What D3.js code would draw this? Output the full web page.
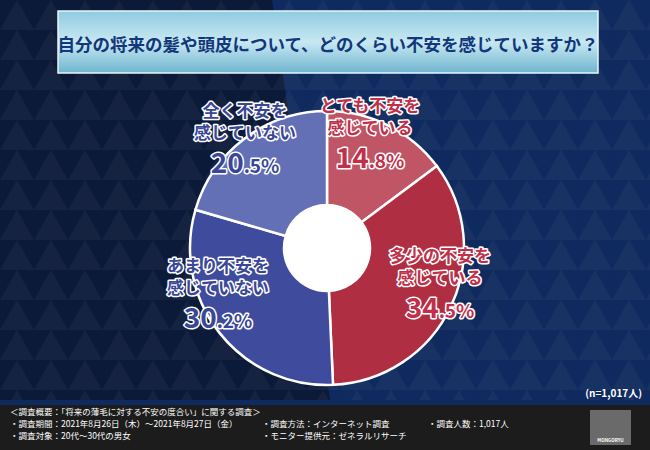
<!DOCTYPE html>
<html><head><meta charset="utf-8">
<script src="https://cdn.jsdelivr.net/npm/d3@7"></script>
<style>body{margin:0;background:#0a1a3a}svg{display:block;font-family:"Noto Sans CJK JP",sans-serif}</style>
</head><body><div id="app"></div>
<script>
const categories = ["とても不安を\n感じている", "多少の不安を\n感じている", "あまり不安を\n感じていない", "全く不安を\n感じていない"];
const values = [14.8, 34.5, 30.2, 20.5];
const colors = ["#c05566", "#b02e42", "#3f4c9e", "#6470b6"];
const textColors = ["#c0304a", "#c0304a", "#3a4796", "#3a4796"];
const labelPos = [[370, 142], [440, 292], [218, 302], [245, 147]];

const width = 650, height = 450;
const svg = d3.select("#app").append("svg").attr("width", width).attr("height", height);
const defs = svg.append("defs");

// background
const pat = defs.append("pattern").attr("id", "tri").attr("patternUnits", "userSpaceOnUse")
  .attr("width", 34).attr("height", 30);
pat.append("path").attr("d", "M0,30 L17,0 L34,30 Z").attr("fill", "#fff").attr("opacity", 0.04);
svg.append("rect").attr("width", width).attr("height", height).attr("fill", "#0f2a5e");
svg.append("path").attr("d", "M0,0 L272,0 L330,400 L0,400 Z").attr("fill", "#0b1a38");
svg.append("rect").attr("width", width).attr("height", 400).attr("fill", "url(#tri)");

// title box
const g1 = defs.append("linearGradient").attr("id", "tb").attr("x1", 0).attr("x2", 0).attr("y1", 0).attr("y2", 1);
g1.append("stop").attr("offset", 0).attr("stop-color", "#8fcbe0");
g1.append("stop").attr("offset", 0.5).attr("stop-color", "#c8e8f2");
g1.append("stop").attr("offset", 1).attr("stop-color", "#6fb5cf");
svg.append("rect").attr("x", 58).attr("y", 11).attr("width", 540).attr("height", 62)
  .attr("fill", "url(#tb)").attr("stroke", "#e8f6fb").attr("stroke-width", 1.5);
svg.append("text").attr("x", 328).attr("y", 51).attr("text-anchor", "middle")
  .attr("font-size", 17.5).attr("font-weight", 700).attr("fill", "#12377a")
  .text("自分の将来の髪や頭皮について、どのくらい不安を感じていますか？");

// donut
const cx = 327, cy = 248;
const pie = d3.pie().sort(null)(values);
const arc = d3.arc().innerRadius(43).outerRadius(137);
const g = svg.append("g").attr("transform", `translate(${cx},${cy})`);
g.selectAll("path").data(pie).join("path").attr("d", arc)
  .attr("fill", (d, i) => colors[i]).attr("stroke", "#fff").attr("stroke-width", 2.5);
g.append("circle").attr("r", 43).attr("fill", "#fff");

// labels
categories.forEach((c, i) => {
  const [x, y] = labelPos[i];
  const t = svg.append("g").attr("font-weight", 700).attr("fill", textColors[i])
    .attr("stroke", "#fff").attr("stroke-width", 3).attr("paint-order", "stroke")
    .attr("stroke-linejoin", "round").attr("text-anchor", "middle");
  c.split("\n").forEach((line, k) => {
    t.append("text").attr("x", x).attr("y", y - 30 + k * 22).attr("font-size", 17).text(line);
  });
  const [a, b] = values[i].toFixed(1).split(".");
  const v = t.append("text").attr("x", x).attr("y", y + 26);
  v.append("tspan").attr("font-size", 28).text(a);
  v.append("tspan").attr("font-size", 19).text("." + b + "%");
});

svg.append("text").attr("x", 642).attr("y", 397).attr("text-anchor", "end")
  .attr("font-size", 10).attr("font-weight", 700).attr("fill", "#fff").text("(n=1,017人)");

// footer
svg.append("rect").attr("y", 405).attr("width", width).attr("height", 45).attr("fill", "#1c1c1c");
const ft = [["＜調査概要：「将来の薄毛に対する不安の度合い」に関する調査＞", 10, 415],
  ["・調査期間：2021年8月26日（木）～2021年8月27日（金）", 10, 427],
  ["・調査対象：20代～30代の男女", 10, 439],
  ["・調査方法：インターネット調査", 262, 427],
  ["・モニター提供元：ゼネラルリサーチ", 262, 439],
  ["・調査人数：1,017人", 428, 427]];
svg.append("g").attr("fill", "#fff").attr("font-size", 8.5).selectAll("text").data(ft).join("text")
  .attr("x", d => d[1]).attr("y", d => d[2]).text(d => d[0]);
svg.append("rect").attr("x", 590).attr("y", 410).attr("width", 41).attr("height", 35).attr("fill", "#6a6a6a");
svg.append("text").attr("x", 610.5).attr("y", 442).attr("text-anchor", "middle")
  .attr("font-size", 4.5).attr("fill", "#fff").attr("font-weight", 700).text("MONGORYU");
</script></body></html>
